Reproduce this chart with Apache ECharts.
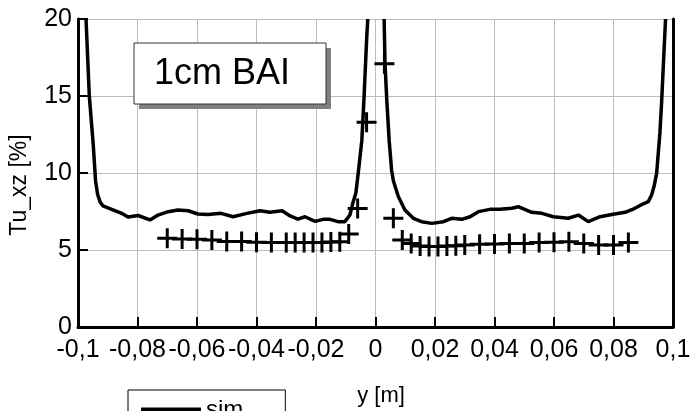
<!DOCTYPE html>
<html><head><meta charset="utf-8">
<script src="https://cdn.jsdelivr.net/npm/echarts@6/dist/echarts.min.js"></script>
<style>html,body{margin:0;padding:0;background:#fff}#c{width:695px;height:411px}</style>
</head><body><div id="c"></div>
<script>
const xTickLabels = ['-0,1','-0,08','-0,06','-0,04','-0,02','0','0,02','0,04','0,06','0,08','0,1'];
const yTickLabels = ['0','5','10','15','20'];

const simLeftX = [-0.0973,-0.0962,-0.0949,-0.0941,-0.0934,-0.0926,-0.0916,-0.0889,-0.0855,-0.0832,-0.0798,-0.0758,-0.0731,-0.0697,-0.0664,-0.0630,-0.0597,-0.0563,-0.0519,-0.0479,-0.0432,-0.0388,-0.0355,-0.0314,-0.0287,-0.0261,-0.0237,-0.0203,-0.0176,-0.0153,-0.0126,-0.0103,-0.0086,-0.0076,-0.0066,-0.0058,-0.0046,-0.0039,-0.0030,-0.0026];
const simLeftY = [20,15,11.9,9.5,8.6,8.14,7.86,7.66,7.40,7.14,7.24,6.95,7.27,7.49,7.6,7.55,7.34,7.3,7.38,7.16,7.38,7.55,7.45,7.55,7.21,7.01,7.16,6.86,6.99,6.99,6.84,6.84,7.27,8.05,8.7,10,12.1,14.7,18.6,20];
const simRightX = [0.0029,0.0032,0.0038,0.0046,0.0054,0.0060,0.0077,0.0099,0.0127,0.0155,0.0189,0.0228,0.0256,0.0290,0.0318,0.0346,0.0385,0.0418,0.0458,0.0480,0.0525,0.0559,0.0598,0.0648,0.0682,0.0715,0.0755,0.0799,0.0839,0.0872,0.0900,0.0917,0.0928,0.0936,0.0945,0.0956,0.0962,0.0970,0.0975];
const simRightY = [20,17.1,14.7,12.1,10.2,9.5,8.46,7.6,7.06,6.84,6.73,6.84,7.06,6.99,7.16,7.49,7.64,7.64,7.71,7.81,7.45,7.38,7.16,7.06,7.27,6.84,7.16,7.32,7.45,7.71,8.0,8.14,8.57,9.1,9.98,12.6,14.7,18,20];

const measX = [-0.07,-0.065,-0.06,-0.055,-0.05,-0.045,-0.04,-0.035,-0.03,-0.027,-0.024,-0.021,-0.018,-0.015,-0.012,-0.009,-0.006,-0.003,0.003,0.006,0.009,0.012,0.015,0.018,0.021,0.024,0.027,0.03,0.035,0.04,0.045,0.05,0.055,0.06,0.065,0.07,0.075,0.08,0.085];
const measY = [5.76,5.71,5.69,5.65,5.56,5.56,5.5,5.48,5.48,5.48,5.48,5.48,5.48,5.52,5.54,6.04,7.7,13.3,17.1,7.06,5.65,5.43,5.26,5.22,5.22,5.26,5.28,5.32,5.37,5.39,5.43,5.43,5.48,5.5,5.54,5.43,5.32,5.32,5.48];

const FONT = 'Liberation Sans';
const simData = simLeftX.map((x,i)=>[x,simLeftY[i]]).concat([[0,'-']], simRightX.map((x,i)=>[x,simRightY[i]]));
const measData = measX.map((x,i)=>[x,measY[i]]);

const chart = echarts.init(document.getElementById('c'), null, {renderer:'canvas'});
chart.setOption({
  animation:false,
  backgroundColor:'#fff',
  grid:{left:78,right:22,top:19,bottom:84,containLabel:false},
  xAxis:{type:'value',min:-0.1,max:0.1,interval:0.02,
    axisLine:{show:true,onZero:false,lineStyle:{color:'#000',width:3}},
    axisTick:{show:true,inside:true,length:10,lineStyle:{color:'#000',width:2}},
    axisLabel:{margin:11,color:'#000',fontFamily:FONT,fontSize:25,
      formatter:v=>{const i=Math.round((v+0.1)/0.02);return xTickLabels[i]??'';}},
    splitLine:{show:true,lineStyle:{color:'#bdbdbd',width:1}}},
  yAxis:[{type:'value',min:0,max:20,interval:5,position:'left',
    axisLine:{show:true,onZero:false,lineStyle:{color:'#000',width:3}},
    axisTick:{show:true,inside:true,length:10,lineStyle:{color:'#000',width:2}},
    axisLabel:{margin:6,color:'#000',fontFamily:FONT,fontSize:25,
      formatter:v=>yTickLabels[Math.round(v/5)]??''},
    splitLine:{show:true,lineStyle:{color:'#bdbdbd',width:1}}},
   {type:'value',min:0,max:20,interval:5,position:'right',
    axisLine:{show:true,onZero:false,lineStyle:{color:'#000',width:3}},
    axisTick:{show:false},axisLabel:{show:false},splitLine:{show:false}}],
  legend:{data:[{name:'sim',icon:'path://M0,0h60v5h-60z'}],orient:'vertical',left:128,top:390,
    padding:[8,42,40,13],itemWidth:60,itemHeight:5,itemGap:10,
    borderColor:'#000',borderWidth:1,backgroundColor:'#fff',
    textStyle:{color:'#000',fontFamily:FONT,fontSize:24},
    itemStyle:{color:'#000'}},
  series:[
    {name:'sim',type:'line',data:simData,symbol:'none',showSymbol:false,
     lineStyle:{color:'#000',width:3.5},itemStyle:{color:'#000'},connectNulls:false,z:3},
    {name:'exp',type:'scatter',data:measData,
     symbol:'path://M8.5,0h3v8.5h8.5v3h-8.5v8.5h-3v-8.5h-8.5v-3h8.5z',symbolSize:20,
     itemStyle:{color:'#000',borderWidth:0,opacity:1},z:4}
  ],
  graphic:[
    {type:'rect',shape:{x:139,y:48,width:192,height:61},style:{fill:'#7f7f7f'},z:10},
    {type:'rect',shape:{x:134,y:43,width:192,height:61},style:{fill:'#fff',stroke:'#333',lineWidth:1},z:11},
    {type:'text',x:154,y:74,style:{text:'1cm BAI',fontFamily:FONT,fontSize:36,fill:'#000',verticalAlign:'middle'},z:12},
    {type:'text',x:20,y:185,rotation:Math.PI/2,style:{text:'Tu_xz [%]',fontFamily:FONT,fontSize:23,fill:'#000',align:'center',verticalAlign:'middle'},z:12},
    {type:'text',x:381,y:396,style:{text:'y [m]',fontFamily:FONT,fontSize:22,fill:'#000',align:'center',verticalAlign:'middle'},z:12}
  ]
});
</script></body></html>
